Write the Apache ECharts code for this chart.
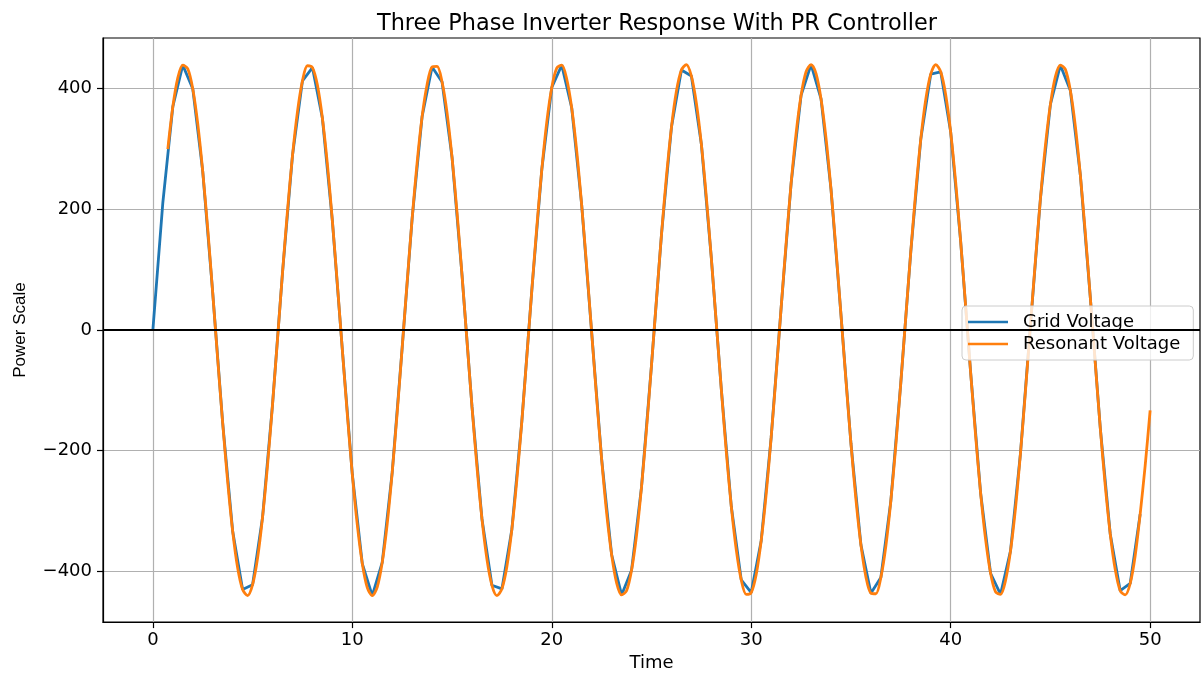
<!DOCTYPE html>
<html>
<head>
<meta charset="utf-8">
<script src="https://cdn.jsdelivr.net/npm/echarts@6/dist/echarts.min.js"></script>
<style>
html,body{margin:0;padding:0;background:#fff;overflow:hidden;}
#chart{width:1202px;height:677px;}
</style>
</head>
<body>
<div id="chart"></div>
<script>
// Grid Voltage samples (time, value)
const gridTime = [0,0.5,1,1.5,2,2.5,3,3.5,4,4.5,5,5.5,6,6.5,7,7.5,8,8.5,9,9.5,10,10.5,11,11.5,12,12.5,13,13.5,14,14.5,15,15.5,16,16.5,17,17.5,18,18.5,19,19.5,20,20.5,21,21.5,22,22.5,23,23.5,24,24.5,25,25.5,26,26.5,27,27.5,28,28.5,29,29.5,30,30.5,31,31.5,32,32.5,33,33.5,34,34.5,35,35.5,36,36.5,37,37.5,38,38.5,39,39.5,40,40.5,41,41.5,42,42.5,43,43.5,44,44.5,45,45.5,46,46.5,47,47.5,48,48.5,49,49.5];
const gridVoltage = [0,211,370,439,400,263,62,-154,-333,-430,
-422,-310,-123,95,289,413,435,351,181,-33,
-239,-387,-440,-385,-236,-29,185,354,436,411,
286,91,-127,-313,-423,-429,-330,-151,66,266,
402,439,368,207,-4,-214,-372,-439,-398,-260,
-58,158,336,431,421,308,119,-98,-292,-414,
-435,-349,-178,37,243,389,440,383,233,25,
-188,-356,-436,-410,-283,-87,130,316,424,428,
328,147,-70,-270,-403,-438,-366,-204,8,218,
374,439,397,257,54,-162,-338,-432,-420,-305];

// Resonant Voltage samples (time, value)
const resonantTime = [0.75,1,1.25,1.5,1.75,2,2.25,2.5,2.75,3,3.25,3.5,3.75,4,4.25,4.5,4.75,5,5.25,5.5,5.75,6,6.25,6.5,6.75,7,7.25,7.5,7.75,8,8.25,8.5,8.75,9,9.25,9.5,9.75,10,10.25,10.5,10.75,11,11.25,11.5,11.75,12,12.25,12.5,12.75,13,13.25,13.5,13.75,14,14.25,14.5,14.75,15,15.25,15.5,15.75,16,16.25,16.5,16.75,17,17.25,17.5,17.75,18,18.25,18.5,18.75,19,19.25,19.5,19.75,20,20.25,20.5,20.75,21,21.25,21.5,21.75,22,22.25,22.5,22.75,23,23.25,23.5,23.75,24,24.25,24.5,24.75,25,25.25,25.5,25.75,26,26.25,26.5,26.75,27,27.25,27.5,27.75,28,28.25,28.5,28.75,29,29.25,29.5,29.75,30,30.25,30.5,30.75,31,31.25,31.5,31.75,32,32.25,32.5,32.75,33,33.25,33.5,33.75,34,34.25,34.5,34.75,35,35.25,35.5,35.75,36,36.25,36.5,36.75,37,37.25,37.5,37.75,38,38.25,38.5,38.75,39,39.25,39.5,39.75,40,40.25,40.5,40.75,41,41.25,41.5,41.75,42,42.25,42.5,42.75,43,43.25,43.5,43.75,44,44.25,44.5,44.75,45,45.25,45.5,45.75,46,46.25,46.5,46.75,47,47.25,47.5,47.75,48,48.25,48.5,48.75,49,49.25,49.5,49.75,50];
const resonantVoltage = [300,370,418,439,433,400,342,263,168,62,-48,-154,-251,-333,-394,-430,-440,-422,-378,-310,-224,-123,-15,95,
198,289,362,413,438,435,406,351,275,181,76,-33,-140,-239,-323,-387,-427,-440,-426,-385,-321,-236,-137,-29,
80,185,278,354,407,436,437,411,360,286,195,91,-18,-127,-227,-313,-380,-423,-440,-429,-392,-330,-248,-151,-44,
66,171,266,345,402,434,439,416,368,297,207,105,-4,-113,-214,-303,-372,-419,-439,-432,-398,-340,-260,-164,-58,
51,158,255,336,396,431,440,421,376,308,220,119,11,-98,-202,-292,-364,-414,-438,-435,-405,-349,-272,-178,-73,
37,144,243,326,389,428,440,425,383,318,233,133,25,-84,-188,-281,-356,-409,-436,-437,-410,-358,-283,-191,-87,
22,130,230,316,382,424,440,428,390,328,245,147,40,-70,-175,-270,-347,-403,-434,-438,-415,-366,-295,-204,-101,
8,116,218,306,374,420,439,432,397,338,257,161,54,-55,-162,-258,-338,-397,-432,-439,-420,-374,-305,-225,-133];

const xTicks = [0,10,20,30,40,50];
const yTicks = [-400,-200,0,200,400];

const FONT = 'DejaVu Sans';
const pair = (xs, ys) => xs.map((x, i) => [x, ys[i]]);
const minus = v => String(v).replace('-', '\u2212');

const chart = echarts.init(document.getElementById('chart'), null, {renderer: 'canvas'});
chart.setOption({
  animation: false,
  backgroundColor: '#fff',
  title: {
    text: 'Three Phase Inverter Response With PR Controller',
    left: 372, top: 8,
    textStyle: {fontFamily: FONT, fontSize: 22.4, fontWeight: 'normal', color: '#000'}
  },
  grid: {left: 103, right: 2, top: 38, bottom: 48, show: true, borderColor: '#000', borderWidth: 1.2, backgroundColor: 'transparent'},
  legend: {
    orient: 'vertical', left: 962, top: 306,
    padding: [7, 13, 7, 6], itemGap: 4, itemWidth: 40, itemHeight: 2.6, icon: 'rect',
    backgroundColor: 'rgba(255,255,255,0.8)', borderColor: '#cccccc', borderWidth: 1, borderRadius: 4,
    textStyle: {fontFamily: FONT, fontSize: 18, color: '#000', lineHeight: 18, padding: [0, 0, 0, 10]},
    data: ['Grid Voltage', 'Resonant Voltage']
  },
  xAxis: {
    type: 'value', min: -2.5, max: 52.5,
    name: 'Time', nameLocation: 'middle', nameGap: 31,
    nameTextStyle: {fontFamily: FONT, fontSize: 18, color: '#000'},
    axisLine: {show: true, onZero: false, lineStyle: {color: '#000', width: 1.2}},
    axisTick: {show: true, length: 6, lineStyle: {color: '#000', width: 1.2}, customValues: xTicks},
    axisLabel: {fontFamily: FONT, fontSize: 18, color: '#000', margin: 9, customValues: xTicks, formatter: minus},
    splitLine: {show: true, lineStyle: {color: '#b0b0b0', width: 1.2}}
  },
  yAxis: {
    type: 'value', min: -484, max: 484,
    name: 'Power Scale', nameLocation: 'middle', nameGap: 74, nameRotate: 90,
    nameTextStyle: {fontFamily: 'Liberation Sans', fontSize: 17, color: '#000'},
    axisLine: {show: true, onZero: false, lineStyle: {color: '#000', width: 1.2}},
    axisTick: {show: true, length: 6, lineStyle: {color: '#000', width: 1.2}, customValues: yTicks},
    axisLabel: {fontFamily: FONT, fontSize: 18, color: '#000', margin: 11, customValues: yTicks, formatter: minus},
    splitLine: {show: true, lineStyle: {color: '#b0b0b0', width: 1.2}}
  },
  series: [
    {
      name: 'Grid Voltage', type: 'line', data: pair(gridTime, gridVoltage),
      showSymbol: false, symbol: 'none', color: '#1f77b4',
      lineStyle: {width: 2.8, color: '#1f77b4'}, z: 2
    },
    {
      name: 'Resonant Voltage', type: 'line', data: pair(resonantTime, resonantVoltage),
      showSymbol: false, symbol: 'none', smooth: 0.3, color: '#ff7f0e',
      lineStyle: {width: 2.8, color: '#ff7f0e'}, z: 3,
      markLine: {
        silent: true, symbol: 'none', label: {show: false},
        lineStyle: {color: '#000', width: 2, type: 'solid'},
        data: [{yAxis: 0}]
      }
    }
  ]
});
</script>
</body>
</html>
